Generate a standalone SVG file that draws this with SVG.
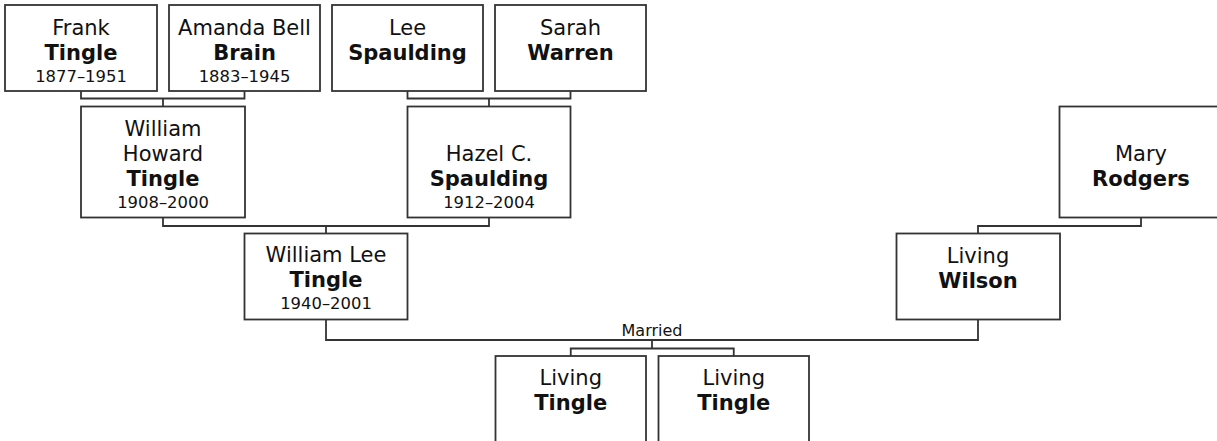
<svg xmlns="http://www.w3.org/2000/svg" width="1217" height="441" viewBox="0 0 1217 441">
<style>
.box{fill:#fff;stroke:#333;stroke-width:1.8}
.ln{fill:none;stroke:#333;stroke-width:1.8}
text{font-family:"DejaVu Sans",Verdana,sans-serif;fill:#111;text-anchor:middle}
.n{font-size:21px}
.s{font-size:21px;font-weight:bold}
.d{font-size:16.4px}
.m{font-size:16px}
</style>
<rect width="1217" height="441" fill="#fff"/>
<g id="connectors">
<path class="ln" d="M81 91V98.5H244.5V91M163 98.5V106.5"/>
<path class="ln" d="M407.5 91V98.5H570.5V91M489 98.5V106.5"/>
<path class="ln" d="M163 217.5V226H489V217.5M326 226V233.5"/>
<path class="ln" d="M1141 218V226H978V233.5"/>
<path class="ln" d="M326 319.5V340H978V319.5M652 340V348.5M570.75 356V348.5H733.75V356"/>
<text class="m" x="652" y="335.5">Married</text>
</g>
<g id="frank">
<rect class="box" x="5" y="5" width="152" height="86"/>
<text class="n" x="81" y="34.5">Frank</text>
<text class="s" x="81" y="59.5">Tingle</text>
<text class="d" x="81" y="81.5">1877–1951</text>
</g>
<g id="amanda">
<rect class="box" x="169" y="5" width="151" height="86"/>
<text class="n" x="244.5" y="34.5">Amanda Bell</text>
<text class="s" x="244.5" y="59.5">Brain</text>
<text class="d" x="244.5" y="81.5">1883–1945</text>
</g>
<g id="lee">
<rect class="box" x="332" y="5" width="151" height="86"/>
<text class="n" x="407.5" y="34.5">Lee</text>
<text class="s" x="407.5" y="59.5">Spaulding</text>
</g>
<g id="sarah">
<rect class="box" x="495" y="5" width="151" height="86"/>
<text class="n" x="570.5" y="34.5">Sarah</text>
<text class="s" x="570.5" y="59.5">Warren</text>
</g>
<g id="william-howard">
<rect class="box" x="81" y="106.5" width="164" height="111"/>
<text class="n" x="163" y="135.5">William</text>
<text class="n" x="163" y="161">Howard</text>
<text class="s" x="163" y="186">Tingle</text>
<text class="d" x="163" y="208">1908–2000</text>
</g>
<g id="hazel">
<rect class="box" x="407.5" y="106.5" width="163" height="111"/>
<text class="n" x="489" y="161">Hazel C.</text>
<text class="s" x="489" y="186">Spaulding</text>
<text class="d" x="489" y="208">1912–2004</text>
</g>
<g id="mary">
<rect class="box" x="1059.5" y="106.5" width="163" height="111"/>
<text class="n" x="1141" y="161">Mary</text>
<text class="s" x="1141" y="186">Rodgers</text>
</g>
<g id="william-lee">
<rect class="box" x="244.5" y="233.5" width="163" height="86"/>
<text class="n" x="326" y="262">William Lee</text>
<text class="s" x="326" y="287">Tingle</text>
<text class="d" x="326" y="308.5">1940–2001</text>
</g>
<g id="living-wilson">
<rect class="box" x="896.5" y="233.5" width="163.5" height="86"/>
<text class="n" x="978" y="263">Living</text>
<text class="s" x="978" y="288">Wilson</text>
</g>
<g id="child1">
<rect class="box" x="495.5" y="356" width="150.5" height="100"/>
<text class="n" x="570.75" y="385">Living</text>
<text class="s" x="570.75" y="410">Tingle</text>
</g>
<g id="child2">
<rect class="box" x="658.5" y="356" width="150.5" height="100"/>
<text class="n" x="733.75" y="385">Living</text>
<text class="s" x="733.75" y="410">Tingle</text>
</g>
</svg>
